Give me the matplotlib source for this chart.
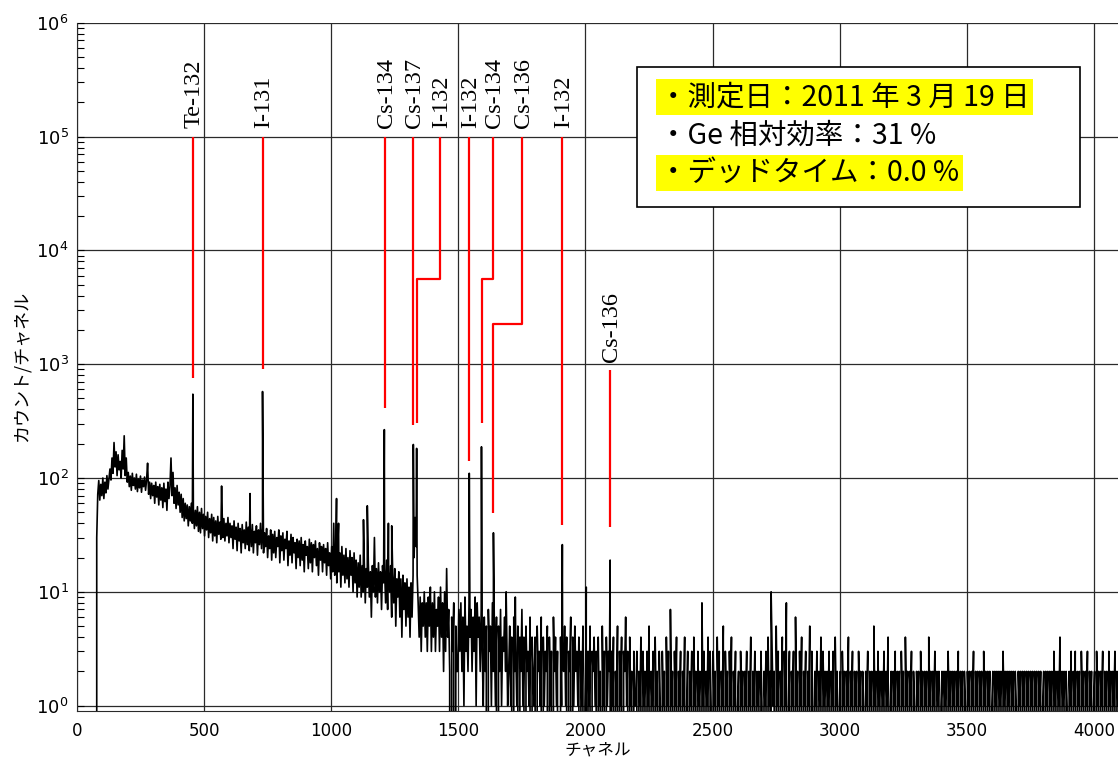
import numpy as np
import matplotlib
matplotlib.use("Agg")
import matplotlib.pyplot as plt
from matplotlib.patches import Rectangle
from matplotlib.ticker import FixedLocator, NullFormatter, LogFormatterMathtext

plt.rcParams["path.simplify"] = False
plt.rcParams["agg.path.chunksize"] = 0

# ---------------- spectrum: background counts ----------------
# low-energy part, one value every 4 channels (one row per 100 channels)
head_start, head_step = 70, 4
head_counts = [
    0, 0, 30, 72, 95, 64, 88, 70, 100, 66, 92, 74, 105, 80, 98, 120, 96, 150, 110, 205, 125, 170, 105, 160, 118,
    140, 100, 175, 120, 235, 105, 150, 92, 112, 84, 104, 78, 110, 86, 100, 80, 108, 76, 98, 82, 104, 75, 96, 84, 102,
    78, 96, 135, 72, 92, 66, 90, 70, 86, 60, 92, 68, 84, 58, 88, 64, 82, 55, 90, 62, 80, 52, 92, 66, 84,
    150, 70, 112, 60, 82, 54, 86, 58, 75, 50, 72, 45, 66, 42, 60, 44, 58, 38, 56, 42, 60, 40, 54, 36, 52,
    38, 56, 34, 50, 33, 54, 36, 48, 31, 46, 35, 50, 30, 44, 33, 48, 28, 45, 31, 42, 27, 46, 32, 41, 29,
    62, 30, 44, 28, 40, 31, 45, 27, 40, 30, 38, 24, 42, 29, 37, 23, 40, 28, 36, 22, 39, 27, 35, 24, 41,
    26, 37, 23, 36, 25, 39, 22, 34, 27, 38, 21, 35, 26, 40, 24, 36, 22, 33, 25, 36, 20, 31, 24, 35, 19,
    32, 22, 34, 20, 30, 25, 35, 18, 31, 23, 33, 19, 29, 24, 34, 17, 28, 21, 32, 18, 30, 22, 27, 16, 29,
    20, 28, 17, 30, 19, 26, 15, 28, 21, 25, 16, 29, 18, 27, 15, 26, 20, 28, 17, 24, 14, 27, 19, 25, 15,
    26, 18, 24, 14, 27, 17, 22, 13, 25, 15, 40, 14, 24, 12, 26, 15, 22, 11, 25, 14, 21, 12, 24, 13, 20,
    11, 23, 14, 20, 10, 22, 12, 19, 9, 18, 11, 21, 9, 17, 10, 19, 8, 16, 11, 18, 9, 15, 6, 17, 10,
    30, 9, 16, 8, 18, 10, 15, 7, 17, 12, 16, 8, 19, 7, 15, 10, 17, 6, 14, 8, 16, 5, 13, 9, 15,
    6, 13, 4, 14, 7, 12, 5, 13, 6, 11, 4, 12, 6, 14, 20, 45, 25, 14, 8, 4, 9, 3, 8, 5, 10,
    4, 8, 3, 9, 5, 11, 3, 8, 4, 10, 3, 7, 5, 9, 3, 11, 4, 8, 2, 10, 3, 16, 4, 7, 2,
    0, 6, 3, 8, 0, 5, 2,
]

# high-energy part, integer counts every 4 channels (one string per 100 channels)
tail_start, tail_step = 1498, 4
tail_digits = [
    "2738261935284726391846273",
    "1625073518241605271436251",
    "2514062315042714052316042",
    "1405231604132504130624130",
    "0413251403260415231403150",
    "1403150324130412051304132",
    "0314021503140326130412031",
    "1302140312031502130412031",
    "0312041307120314021302140",
    "1302130412031208130214031",
    "0312041302150312031402130",
    "1203120213021402130212031",
    "0213041203120513021403180",
    "1302130612031402130215031",
    "0213021403120213021304120",
    "1203120214021302120312021",
    "0213021205120312021302140",
    "1202130212031204120213021",
    "0212031202120412021302120",
    "1202120312021202130212021",
    "0212021302120212031202120",
    "1202120212031202120212021",
    "0212021202120212021202120",
    "1202120212031202140212021",
    "0213021302120312021302120",
    "1203120213021203120213021",
]

# photopeaks and isolated spikes
peak_channels = [456, 569, 681, 730, 1021, 1029, 1127, 1142, 1209,
                 1225, 1238, 1323, 1336, 1543, 1591, 1638, 1688,
                 1724, 1909, 2003, 2097, 2730]
peak_counts = [545, 85, 73, 575, 66, 40, 43, 57, 266,
               40, 38, 197, 182, 110, 188, 33, 10,
               9, 26, 11, 19, 10]

# ---------------- nuclide identification markers ----------------
nuclides = ["Te-132", "I-131", "Cs-134", "Cs-137", "I-132",
            "I-132", "Cs-134", "Cs-136", "I-132", "Cs-136"]
label_channels = [456, 730, 1213, 1321, 1428, 1542, 1638, 1749, 1907, 2098]
tip_channels = [456, 730, 1213, 1321, 1336, 1542, 1593, 1638, 1907, 2098]
top_levels = [1e5, 1e5, 1e5, 1e5, 1e5, 1e5, 1e5, 1e5, 1e5, 885]
elbow_levels = [None, None, None, None, 5580, None, 5580, 2245, None, None]
tip_levels = [752, 900, 410, 295, 307, 140, 307, 49, 39, 37]

# ---------------- measurement info ----------------
info_lines = ["・測定日：2011 年 3 月 19 日",
              "・Ge 相対効率：31 %",
              "・デッドタイム：0.0 %"]
info_highlight = [True, False, True]

x_ticks = [0, 500, 1000, 1500, 2000, 2500, 3000, 3500, 4000]
y_decades = [1e0, 1e1, 1e2, 1e3, 1e4, 1e5, 1e6]
x_label = "チャネル"
y_label = "カウント/チャネル"

# ---------------- assemble spectrum ----------------
head_ch = head_start + head_step * np.arange(len(head_counts))
tail_counts = [int(c) for c in "".join(tail_digits)]
tail_ch = tail_start + tail_step * np.arange(len(tail_counts))
channels = np.concatenate([head_ch, tail_ch, peak_channels]).astype(float)
counts = np.concatenate([head_counts, tail_counts, peak_counts]).astype(float)
order = np.argsort(channels, kind="stable")
channels, counts = channels[order], counts[order]

CJK = ["Noto Sans CJK JP", "DejaVu Sans"]

fig = plt.figure(figsize=(11.18, 7.60), dpi=100)
W, H = 1118, 760
ax_left, ax_right, ax_top, ax_bottom = 76.9, 76.9 + 4096 * 0.25429, 22.7, 711
ax = fig.add_axes([ax_left / W, 1 - ax_bottom / H,
                   (ax_right - ax_left) / W, (ax_bottom - ax_top) / H])

ax.set_yscale("log")
ax.set_ylim(0.898, 1e6)
ax.set_xlim(0, 4096)

ax.plot(channels, counts, color="black", lw=1.2, zorder=3)

# grid and ticks
ax.xaxis.set_major_locator(FixedLocator(x_ticks))
ax.yaxis.set_major_locator(FixedLocator(y_decades))
minor = [m * d for d in y_decades[:-1] for m in range(2, 10)]
ax.yaxis.set_minor_locator(FixedLocator(minor))
ax.yaxis.set_minor_formatter(NullFormatter())
ax.yaxis.set_major_formatter(LogFormatterMathtext())
ax.grid(True, which="major", color="#2a2a2a", lw=0.9, zorder=1)
ax.set_axisbelow(True)
ax.tick_params(axis="x", length=0, pad=8, labelsize=12)
ax.tick_params(axis="y", which="both", direction="in", length=5, width=0.8,
               labelsize=13, pad=6)
for side in ("top", "right"):
    ax.spines[side].set_visible(False)
for side in ("left", "bottom"):
    ax.spines[side].set_color("#2a2a2a")

ax.set_xlabel(x_label, family=CJK, fontsize=12, labelpad=1)
ax.set_ylabel(y_label, family=CJK, fontsize=13, labelpad=4)

# nuclide markers
for name, lc, tc, top, elbow, tip in zip(nuclides, label_channels, tip_channels,
                                         top_levels, elbow_levels, tip_levels):
    if elbow is None:
        xs, ys = [lc, tc], [top, tip]
    else:
        xs, ys = [lc, lc, tc, tc], [top, elbow, elbow, tip]
    ax.plot(xs, ys, color="red", lw=1.6, zorder=4, solid_capstyle="butt")
    ax.annotate(name, (lc, top), xytext=(1, 6), textcoords="offset points",
                rotation=90, ha="center", va="bottom", fontsize=17.5,
                family="Liberation Serif", zorder=5)

# information box
bx0, bx1, by0, by1 = 637, 1080, 67, 207
fig.add_artist(Rectangle((bx0 / W, 1 - by1 / H), (bx1 - bx0) / W, (by1 - by0) / H,
                         transform=fig.transFigure, facecolor="white",
                         edgecolor="black", lw=1.2, zorder=10))
line_y = [97, 136, 173]
for text, hl, yy in zip(info_lines, info_highlight, line_y):
    kw = {}
    if hl:
        kw["bbox"] = dict(boxstyle="square,pad=0.12", facecolor="#ffff00",
                          edgecolor="none")
    fig.text(659 / W, 1 - yy / H, text, family=CJK, fontsize=20.5,
             ha="left", va="center", zorder=11, **kw)

fig.savefig("out.png", dpi=100)
